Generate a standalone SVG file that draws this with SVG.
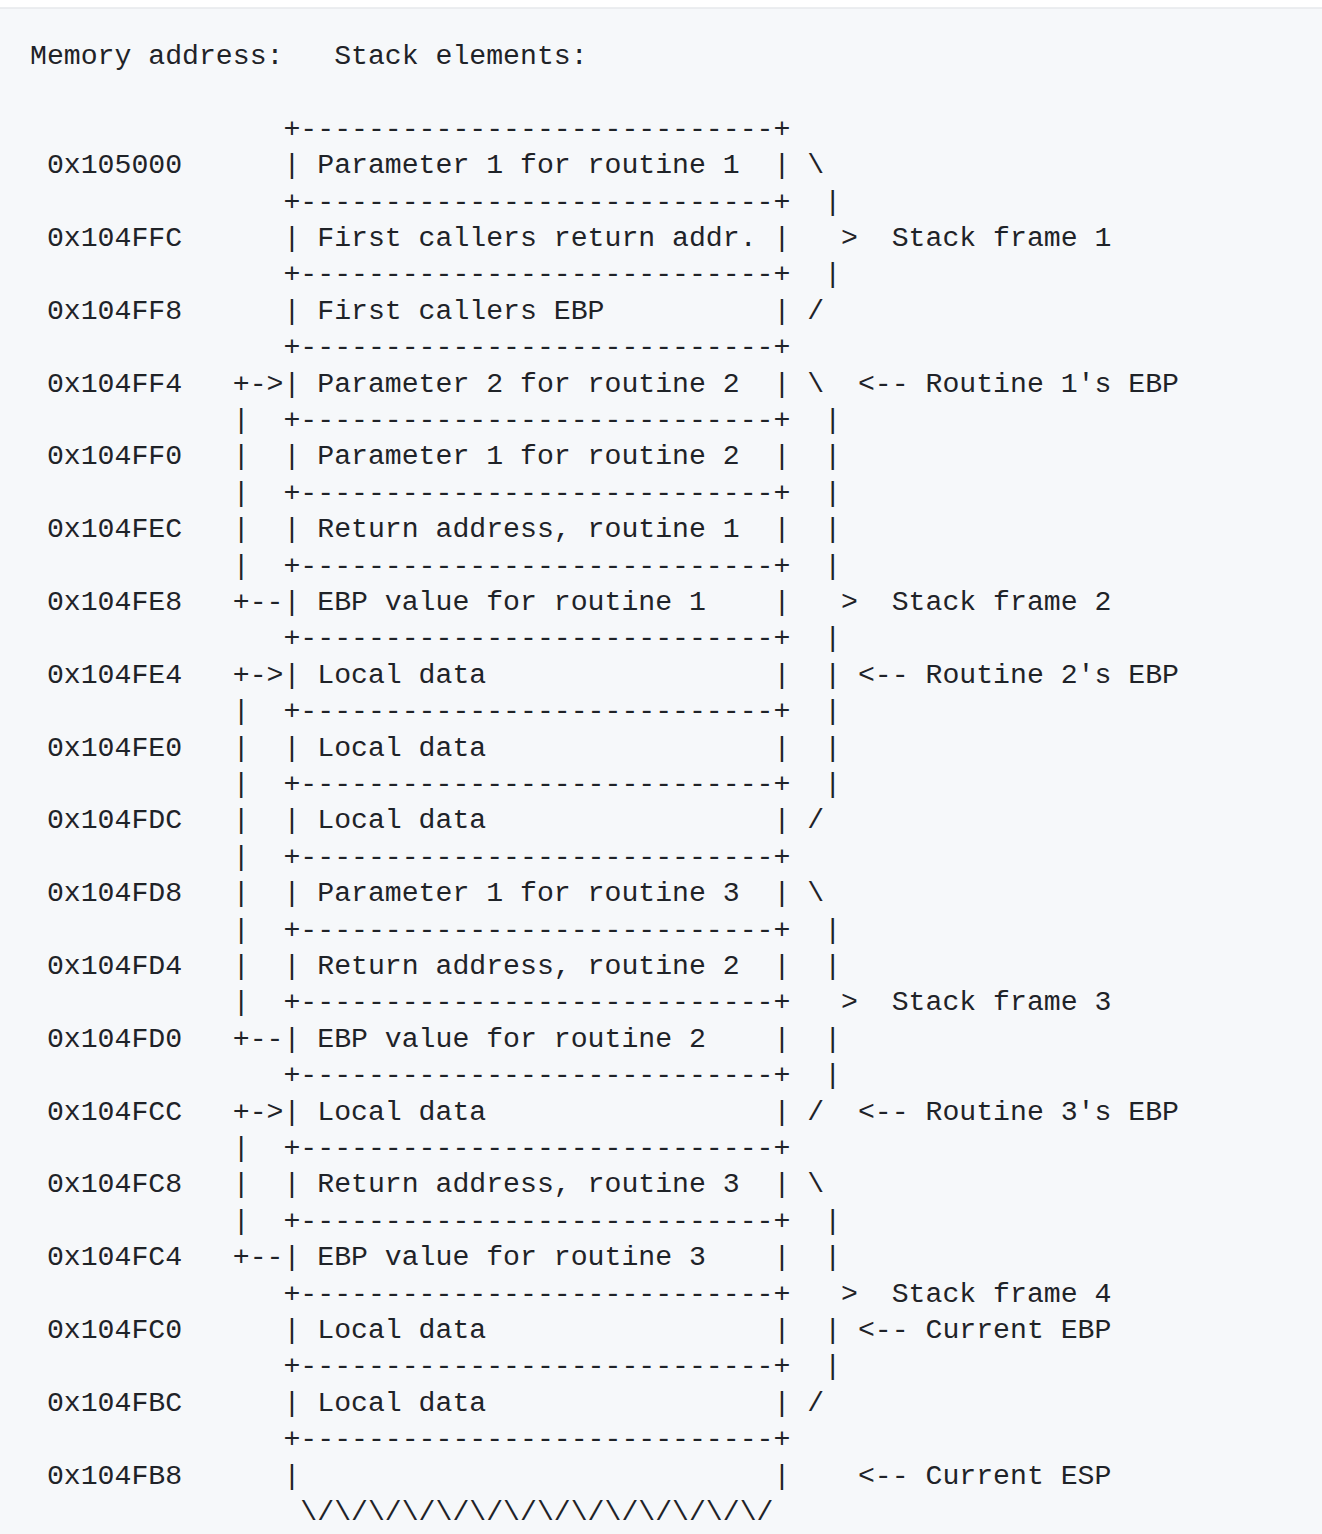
<svg xmlns="http://www.w3.org/2000/svg" width="1322" height="1534" viewBox="0 0 1322 1534" xml:space="preserve">
<style>
text{font-family:"Liberation Mono","DejaVu Sans Mono",monospace;font-size:28.17px;fill:#1f2328;white-space:pre}
</style>
<rect x="0" y="0" width="1322" height="1534" fill="#ffffff"/>
<rect x="0" y="8" width="1322" height="1526" fill="#f6f8fa"/>
<line x1="0" y1="8" x2="1322" y2="8" stroke="#e6e8eb" stroke-width="1.5"/>
<g id="diagram">
<text xml:space="preserve" x="30" y="64">Memory address:   Stack elements:</text>
<text xml:space="preserve" x="30" y="136.8">               +----------------------------+</text>
<text xml:space="preserve" x="30" y="173.2"> 0x105000      | Parameter 1 for routine 1  | \</text>
<text xml:space="preserve" x="30" y="209.6">               +----------------------------+  |</text>
<text xml:space="preserve" x="30" y="246"> 0x104FFC      | First callers return addr. |   &gt;  Stack frame 1</text>
<text xml:space="preserve" x="30" y="282.4">               +----------------------------+  |</text>
<text xml:space="preserve" x="30" y="318.8"> 0x104FF8      | First callers EBP          | /</text>
<text xml:space="preserve" x="30" y="355.2">               +----------------------------+</text>
<text xml:space="preserve" x="30" y="391.6"> 0x104FF4   +-&gt;| Parameter 2 for routine 2  | \  &lt;-- Routine 1's EBP</text>
<text xml:space="preserve" x="30" y="428">            |  +----------------------------+  |</text>
<text xml:space="preserve" x="30" y="464.4"> 0x104FF0   |  | Parameter 1 for routine 2  |  |</text>
<text xml:space="preserve" x="30" y="500.8">            |  +----------------------------+  |</text>
<text xml:space="preserve" x="30" y="537.2"> 0x104FEC   |  | Return address, routine 1  |  |</text>
<text xml:space="preserve" x="30" y="573.6">            |  +----------------------------+  |</text>
<text xml:space="preserve" x="30" y="610"> 0x104FE8   +--| EBP value for routine 1    |   &gt;  Stack frame 2</text>
<text xml:space="preserve" x="30" y="646.4">               +----------------------------+  |</text>
<text xml:space="preserve" x="30" y="682.8"> 0x104FE4   +-&gt;| Local data                 |  | &lt;-- Routine 2's EBP</text>
<text xml:space="preserve" x="30" y="719.2">            |  +----------------------------+  |</text>
<text xml:space="preserve" x="30" y="755.6"> 0x104FE0   |  | Local data                 |  |</text>
<text xml:space="preserve" x="30" y="792">            |  +----------------------------+  |</text>
<text xml:space="preserve" x="30" y="828.4"> 0x104FDC   |  | Local data                 | /</text>
<text xml:space="preserve" x="30" y="864.8">            |  +----------------------------+</text>
<text xml:space="preserve" x="30" y="901.2"> 0x104FD8   |  | Parameter 1 for routine 3  | \</text>
<text xml:space="preserve" x="30" y="937.6">            |  +----------------------------+  |</text>
<text xml:space="preserve" x="30" y="974"> 0x104FD4   |  | Return address, routine 2  |  |</text>
<text xml:space="preserve" x="30" y="1010.4">            |  +----------------------------+   &gt;  Stack frame 3</text>
<text xml:space="preserve" x="30" y="1046.8"> 0x104FD0   +--| EBP value for routine 2    |  |</text>
<text xml:space="preserve" x="30" y="1083.2">               +----------------------------+  |</text>
<text xml:space="preserve" x="30" y="1119.6"> 0x104FCC   +-&gt;| Local data                 | /  &lt;-- Routine 3's EBP</text>
<text xml:space="preserve" x="30" y="1156">            |  +----------------------------+</text>
<text xml:space="preserve" x="30" y="1192.4"> 0x104FC8   |  | Return address, routine 3  | \</text>
<text xml:space="preserve" x="30" y="1228.8">            |  +----------------------------+  |</text>
<text xml:space="preserve" x="30" y="1265.2"> 0x104FC4   +--| EBP value for routine 3    |  |</text>
<text xml:space="preserve" x="30" y="1301.6">               +----------------------------+   &gt;  Stack frame 4</text>
<text xml:space="preserve" x="30" y="1338"> 0x104FC0      | Local data                 |  | &lt;-- Current EBP</text>
<text xml:space="preserve" x="30" y="1374.4">               +----------------------------+  |</text>
<text xml:space="preserve" x="30" y="1410.8"> 0x104FBC      | Local data                 | /</text>
<text xml:space="preserve" x="30" y="1447.2">               +----------------------------+</text>
<text xml:space="preserve" x="30" y="1483.6"> 0x104FB8      |                            |    &lt;-- Current ESP</text>
<text xml:space="preserve" x="30" y="1520">                \/\/\/\/\/\/\/\/\/\/\/\/\/\/</text>
</g>
</svg>
